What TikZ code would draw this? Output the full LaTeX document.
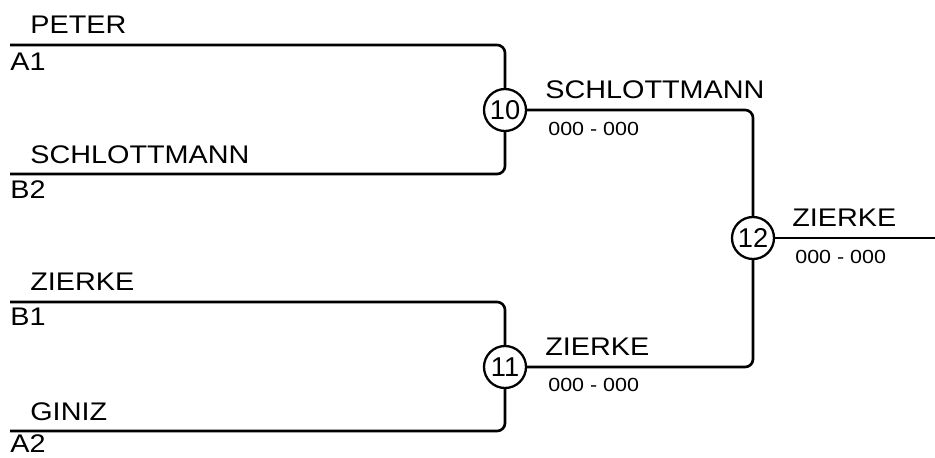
\documentclass[tikz,border=0pt]{standalone}
\usepackage{fontspec}
\setmainfont{Liberation Sans}[FakeStretch=1.13]
\newfontfamily\roundfont{Liberation Sans}
\usepackage{tikz}

\tikzset{
	bracket/.style={line width=1.5pt, rounded corners=4.5pt},
	matchnode/.style={circle, draw, line width=1.3pt, fill=white, minimum size=0.84cm, inner sep=0pt, font=\roundfont\fontsize{15.5}{17}\selectfont},
	player/.style={anchor=base west, inner sep=0pt, font=\fontsize{14.5}{16}\selectfont},
	score/.style={anchor=base west, inner sep=0pt, font=\fontsize{10.8}{12}\selectfont}
}

\begin{document}
\begin{tikzpicture}[x=0.02cm, y=-0.02cm]
			\useasboundingbox (0,0) rectangle (935,457);
			\coordinate (a1) at (10,45);
			\coordinate (b2) at (10,174);
			\coordinate (b1) at (10,302);
			\coordinate (a2) at (10,431);
			\coordinate (out) at (935,238);
			\node [matchnode] (m10) at (505,110) {10};
			\node [matchnode] (m11) at (505,367) {11};
			\node [matchnode] (m12) at (753,238) {12};
			\draw[bracket] (a1) -| (m10);
			\draw[bracket] (b2) -| (m10);
			\draw[bracket] (b1) -| (m11);
			\draw[bracket] (a2) -| (m11);
			\draw[bracket] (m10) -| (m12);
			\draw[bracket] (m11) -| (m12);
			\draw[bracket] (m12) -- (out);
			\node [player] (p1) at (30,33) {PETER};
			\node [player] (s1) at (10,70) {A1};
			\node [player] (p2) at (30,163) {SCHLOTTMANN};
			\node [player] (s2) at (10,198) {B2};
			\node [player] (p3) at (30,290) {ZIERKE};
			\node [player] (s3) at (10,325) {B1};
			\node [player] (p4) at (30,420) {GINIZ};
			\node [player] (s4) at (10,452) {A2};
			\node [player] (w10) at (545,98) {SCHLOTTMANN};
			\node [score] (r10) at (548,135) {000 - 000};
			\node [player] (w11) at (545,355) {ZIERKE};
			\node [score] (r11) at (548,391) {000 - 000};
			\node [player] (w12) at (792,226) {ZIERKE};
			\node [score] (r12) at (795,263) {000 - 000};
		\end{tikzpicture}
\end{document}
